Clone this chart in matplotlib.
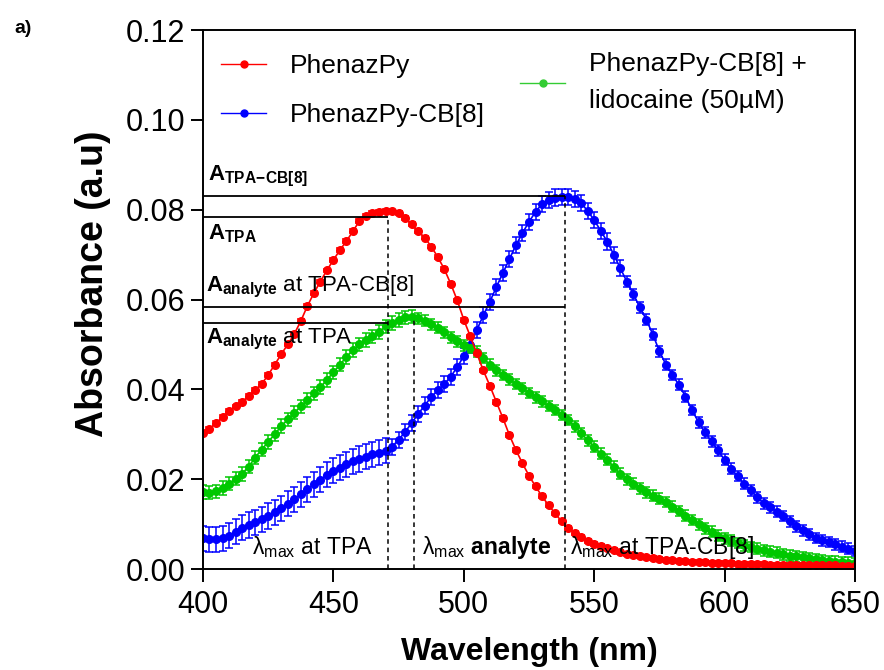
import numpy as np
import matplotlib.pyplot as plt
from matplotlib.lines import Line2D

plt.rcParams['font.family'] = ['Liberation Sans', 'DejaVu Sans']
plt.rcParams['mathtext.fontset'] = 'custom'
plt.rcParams['mathtext.rm'] = 'Liberation Sans'
plt.rcParams['mathtext.bf'] = 'Liberation Sans:bold'
plt.rcParams['mathtext.it'] = 'Liberation Sans:italic'

# longitud de onda (nm), un punto cada 2.5 nm
wavelength = np.arange(400, 650.1, 2.5)

# PhenazPy (rojo)
phenazpy = [
    .0303, .0312, .0325, .0338, .0352, .0362, .0372, .0385, .0398, .0412,
    .0432, .0455, .0478, .0500, .0523, .0552, .0585, .0614, .0640, .0665,
    .0688, .0710, .0730, .0752, .0775, .0786, .0792, .0795, .0797, .0796,
    .0792, .0782, .0768, .0752, .0738, .0718, .0695, .0668, .0635, .0598,
    .0555, .0518, .0480, .0442, .0408, .0372, .0336, .0298, .0265, .0235,
    .0208, .0184, .0162, .0142, .0124, .0106, .0092, .0080, .0071, .0063,
    .0056, .0051, .0046, .0042, .0038, .0034, .0031, .0028, .0026, .0024,
    .0022, .0020, .0019, .0018, .0017, .0016, .0015, .0015, .0014, .0014,
    .0013, .0013, .0012, .0012, .0011, .0011, .0011, .0010, .0010, .0010,
    .0009, .0009, .0009, .0009, .0008, .0008, .0008, .0008, .0007, .0007,
    .0007]

# PhenazPy-CB[8] (azul)
phenazpy_cb8 = [
    .0068, .0066, .0066, .0068, .0074, .0083, .0092, .0098, .0104, .0111,
    .0118, .0126, .0135, .0145, .0155, .0166, .0178, .0189, .0199, .0210,
    .0219, .0226, .0233, .0240, .0245, .0250, .0255, .0259, .0263, .0272,
    .0288, .0305, .0325, .0345, .0364, .0383, .0398, .0412, .0428, .0450,
    .0474, .0498, .0532, .0565, .0595, .0628, .0659, .0690, .0721, .0748,
    .0773, .0795, .0813, .0822, .0827, .0829, .0828, .0824, .0815, .0797,
    .0777, .0753, .0729, .0700, .0670, .0640, .0612, .0583, .0555, .0522,
    .0485, .0455, .0432, .0410, .0384, .0354, .0327, .0304, .0284, .0264,
    .0243, .0223, .0207, .0190, .0175, .0160, .0146, .0137, .0128, .0118,
    .0106, .0095, .0086, .0077, .0069, .0064, .0060, .0055, .0050, .0045,
    .0040]

# PhenazPy-CB[8] + lidocaina 50 uM (verde)
phenazpy_cb8_lido = [
    .0172, .0170, .0173, .0180, .0190, .0201, .0212, .0228, .0248, .0266,
    .0283, .0300, .0318, .0333, .0348, .0362, .0376, .0391, .0405, .0421,
    .0438, .0455, .0472, .0488, .0500, .0510, .0518, .0528, .0540, .0548,
    .0554, .0560, .0562, .0558, .0553, .0545, .0537, .0527, .0516, .0507,
    .0498, .0492, .0484, .0470, .0455, .0442, .0432, .0422, .0412, .0402,
    .0392, .0382, .0373, .0363, .0354, .0343, .0332, .0318, .0302, .0287,
    .0272, .0257, .0243, .0228, .0212, .0200, .0190, .0180, .0171, .0163,
    .0157, .0149, .0139, .0129, .0119, .0109, .0100, .0091, .0083, .0074,
    .0068, .0063, .0058, .0053, .0049, .0045, .0042, .0039, .0036, .0033,
    .0030, .0028, .0026, .0024, .0022, .0020, .0018, .0016, .0015, .0014,
    .0013]

# barras de error (estimadas a ojo)
err_red = [0.0004] * 101
err_blue = [0.0028] * 29 + [0.0018] * 36 + [0.0012] * 36
err_green = [0.0015] * 33 + [0.0012] * 68

# valores de referencia marcados en la figura
lam_tpa, lam_analyte, lam_tpa_cb8 = 471, 481, 539
a_tpa_cb8, a_tpa = 0.083, 0.0784
a_an_cb8, a_an_tpa = 0.0583, 0.0548
green_peak = 0.0562

red, blue, green = '#ff0000', '#0000ff', '#00c800'

fig = plt.figure(figsize=(8.84, 6.70), dpi=100)
ax = fig.add_axes([0.2296, 0.1507, 0.7376, 0.8045])

for y, e, c in [(phenazpy_cb8, err_blue, blue), (phenazpy_cb8_lido, err_green, green),
                (phenazpy, err_red, red)]:
    ax.errorbar(wavelength, y, yerr=e, color=c, marker='o', markersize=5.5,
                lw=1.2, elinewidth=1.1, capsize=3, capthick=1.1)

# lineas guia
ax.hlines([a_tpa_cb8, a_an_cb8], 400, lam_tpa_cb8, color='k', lw=1.3, zorder=5)
ax.hlines([a_tpa, a_an_tpa], 400, lam_tpa, color='k', lw=1.3, zorder=5)
ax.vlines(lam_tpa, 0, a_tpa, color='k', lw=1.1, linestyles=(0, (3, 2.5)), zorder=5)
ax.vlines(lam_analyte, 0, green_peak, color='k', lw=1.1, linestyles=(0, (3, 2.5)), zorder=5)
ax.vlines(lam_tpa_cb8, 0, a_tpa_cb8, color='k', lw=1.1, linestyles=(0, (3, 2.5)), zorder=5)

fs = 16
ax.text(402, 0.0846, r'$\mathbf{A}_{\mathbf{TPA\!-\!CB[8]}}$', fontsize=fs, va='bottom', ha='left')
ax.text(402, 0.0771, r'$\mathbf{A}_{\mathbf{TPA}}$', fontsize=fs, va='top', ha='left')
ax.text(401, 0.0598, r'$\mathbf{A}_{\mathbf{analyte}}$ at TPA-CB[8]', fontsize=fs, va='bottom', ha='left')
ax.text(401, 0.0538, r'$\mathbf{A}_{\mathbf{analyte}}$ at TPA', fontsize=fs, va='top', ha='left')
fl = 16.5
ax.text(418.8, 0.0048, r'λ$_{\mathrm{max}}$ at TPA', fontsize=fl, va='center', ha='left')
ax.text(484, 0.0048, r'λ$_{\mathrm{max}}$ $\mathbf{analyte}$', fontsize=fl, va='center', ha='left')
ax.text(540.7, 0.0048, r'λ$_{\mathrm{max}}$ at TPA-CB[8]', fontsize=fl, va='center', ha='left')

# leyenda en dos bloques
h_red = Line2D([], [], color=red, marker='o', markersize=5, lw=1)
h_blue = Line2D([], [], color=blue, marker='o', markersize=5, lw=1)
h_green = Line2D([], [], color='#33cc33', marker='o', markersize=5, lw=1)
leg_opts = dict(loc='upper left', frameon=False, fontsize=19, handlelength=1.7,
                handletextpad=0.9, borderaxespad=0.3)
leg1 = ax.legend([h_red, h_blue], ['PhenazPy', 'PhenazPy-CB[8]'],
                 bbox_to_anchor=(0.0, 0.99), labelspacing=0.97, **leg_opts)
ax.add_artist(leg1)
leg2 = ax.legend([h_green], ['PhenazPy-CB[8] +\nlidocaine (50µM)'],
                 bbox_to_anchor=(0.4586, 0.994), **leg_opts)
for t in leg2.get_texts():
    t.set_linespacing(1.7)

ax.set_xlim(400, 650)
ax.set_ylim(0, 0.12)
ax.set_xticks([400, 450, 500, 550, 600, 650])
ax.set_yticks([0, 0.02, 0.04, 0.06, 0.08, 0.10, 0.12])
ax.set_yticklabels(['0.00', '0.02', '0.04', '0.06', '0.08', '0.10', '0.12'])
ax.tick_params(labelsize=22, length=9, width=1.4, direction='out')
ax.tick_params(axis='x', pad=6)
for s in ax.spines.values():
    s.set_linewidth(1.4)

ax.set_xlabel('Wavelength (nm)', fontsize=23, fontweight='bold', labelpad=12)
ax.set_ylabel('Absorbance (a.u)', fontsize=27, fontweight='bold')
ax.yaxis.set_label_coords(-0.141, 0.53)

fig.text(0.016, 0.958, 'a)', fontsize=14, fontweight='bold', va='center')

fig.savefig('out.png', dpi=100)
